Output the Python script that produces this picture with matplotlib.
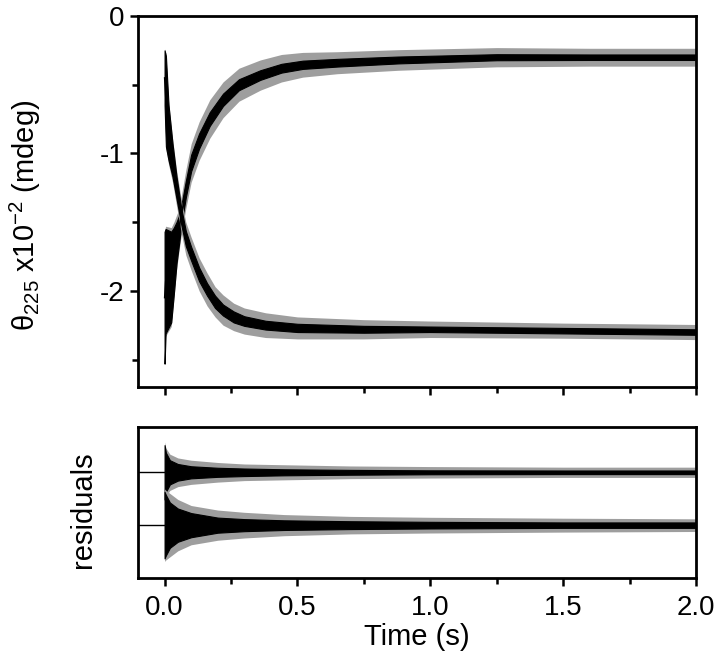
import matplotlib
matplotlib.use('Agg')
import matplotlib.pyplot as plt
import numpy as np
from matplotlib.ticker import MultipleLocator, NullFormatter

plt.rcParams['font.family'] = ['Liberation Sans', 'DejaVu Sans']
plt.rcParams['mathtext.fontset'] = 'custom'
plt.rcParams['mathtext.rm'] = 'Liberation Sans'
plt.rcParams['mathtext.it'] = 'Liberation Sans:italic'
plt.rcParams['mathtext.bf'] = 'Liberation Sans:bold'
plt.rcParams['axes.unicode_minus'] = False

# ---------------- data ----------------
# trace rising from about -2.5 to -0.3 (units of 10^2 mdeg)
t_rise = [0.000, 0.004, 0.025, 0.035, 0.045, 0.055, 0.063, 0.080, 0.100, 0.130,
          0.170, 0.220, 0.280, 0.360, 0.440, 0.520, 0.650, 0.880, 1.250, 1.600, 2.000]
rise_fit = [-2.05, -1.93, -1.90, -1.78, -1.65, -1.55, -1.45, -1.26, -1.07, -0.91,
            -0.75, -0.61, -0.50, -0.43, -0.38, -0.355, -0.34, -0.32, -0.30, -0.30, -0.30]
rise_core = [0.48, 0.38, 0.33, 0.24, 0.15, 0.10, 0.07, 0.06, 0.06, 0.055,
             0.05, 0.045, 0.04, 0.035, 0.032, 0.03, 0.028, 0.025, 0.022, 0.02, 0.02]
rise_spread = [0.49, 0.40, 0.36, 0.28, 0.20, 0.15, 0.14, 0.14, 0.14, 0.14,
               0.14, 0.13, 0.12, 0.11, 0.10, 0.09, 0.08, 0.075, 0.07, 0.065, 0.065]

# trace falling from about -0.25 to -2.3
t_fall = [0.000, 0.005, 0.015, 0.030, 0.045, 0.063, 0.080, 0.100, 0.130, 0.160,
          0.190, 0.220, 0.260, 0.300, 0.380, 0.500, 0.750, 1.000, 1.500, 2.000]
fall_fit = [-0.45, -0.62, -0.85, -1.05, -1.25, -1.46, -1.62, -1.73, -1.88, -1.99,
            -2.08, -2.14, -2.19, -2.22, -2.25, -2.27, -2.28, -2.28, -2.29, -2.30]
fall_core = [0.20, 0.33, 0.20, 0.12, 0.08, 0.06, 0.055, 0.05, 0.05, 0.045,
             0.045, 0.04, 0.04, 0.035, 0.032, 0.03, 0.025, 0.02, 0.02, 0.02]
fall_spread = [0.21, 0.35, 0.23, 0.16, 0.13, 0.12, 0.12, 0.12, 0.12, 0.12,
               0.11, 0.11, 0.10, 0.095, 0.09, 0.08, 0.07, 0.06, 0.055, 0.055]

# residuals (panel units), two traces offset vertically
res_offsets = [0.70, 0.35]
t_res = [0.000, 0.005, 0.020, 0.050, 0.100, 0.200, 0.300, 0.450, 0.700, 1.000, 1.500, 2.000]
res_upper_core = [0.18, 0.13, 0.08, 0.055, 0.04, 0.03, 0.025, 0.02, 0.016, 0.013, 0.012, 0.012]
res_upper_spread = [0.20, 0.16, 0.12, 0.095, 0.08, 0.065, 0.055, 0.05, 0.042, 0.038, 0.034, 0.034]
res_lower_core = [0.22, 0.20, 0.15, 0.11, 0.08, 0.05, 0.04, 0.032, 0.026, 0.022, 0.018, 0.018]
res_lower_spread = [0.24, 0.23, 0.21, 0.17, 0.13, 0.10, 0.085, 0.07, 0.058, 0.052, 0.046, 0.042]

x_ticks = [0.0, 0.5, 1.0, 1.5, 2.0]
x_tick_labels = ['0.0', '0.5', '1.0', '1.5', '2.0']
y_ticks = [0, -1, -2]
y_tick_labels = ['0', '-1', '-2']

# ---------------- figure ----------------
fig = plt.figure(figsize=(7.2, 6.68), dpi=100)
ax1 = fig.add_axes([138/720, 1-387/668, 558/720, 371/668])
ax2 = fig.add_axes([138/720, 1-578/668, 558/720, 151/668])


def band(ax, t, c, core, spread):
    t = np.asarray(t); c = np.asarray(c)
    core = np.asarray(core); spread = np.asarray(spread)
    ax.fill_between(t, c - spread, c + spread, color='0.62', linewidth=0)
    ax.fill_between(t, c - core, c + core, color='black', linewidth=0.8)


band(ax1, t_rise, rise_fit, rise_core, rise_spread)
band(ax1, t_fall, fall_fit, fall_core, fall_spread)
ax1.plot(t_rise, rise_fit, color='black', lw=1.0)
ax1.plot(t_fall, fall_fit, color='black', lw=1.0)

for off in res_offsets:
    ax2.axhline(off, color='black', lw=1.0, zorder=1)
band(ax2, t_res, [res_offsets[0]] * len(t_res), res_upper_core, res_upper_spread)
band(ax2, t_res, [res_offsets[1]] * len(t_res), res_lower_core, res_lower_spread)

for ax in (ax1, ax2):
    ax.set_xlim(-0.1, 2.0)
    for s in ax.spines.values():
        s.set_linewidth(2.0)
    ax.set_xticks(x_ticks)
    ax.xaxis.set_minor_locator(MultipleLocator(0.25))
    ax.tick_params(which='major', direction='out', length=6, width=1.8, labelsize=20)
    ax.tick_params(which='minor', direction='out', length=4.5, width=1.8)
    ax.tick_params(axis='x', pad=6)

ax1.set_ylim(-2.7, 0)
ax1.set_yticks(y_ticks)
ax1.set_yticklabels(y_tick_labels)
ax1.yaxis.set_minor_locator(MultipleLocator(0.5))
ax1.tick_params(axis='y', pad=3.5)
ax1.xaxis.set_major_formatter(NullFormatter())
ax1.set_ylabel('θ$_{225}$ x10$^{\\mathrm{-2}}$ (mdeg)', fontsize=21)
ax1.yaxis.set_label_coords(-0.170, 0.464)

ax2.set_ylim(0, 1)
ax2.set_yticks([])
ax2.set_xticklabels(x_tick_labels)
ax2.set_ylabel('residuals', fontsize=21)
ax2.yaxis.set_label_coords(-0.0735, 0.45)
ax2.set_xlabel('Time (s)', fontsize=21, labelpad=2)

fig.savefig('out.png', dpi=100)
